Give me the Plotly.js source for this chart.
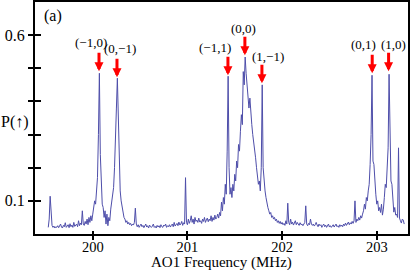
<!DOCTYPE html>
<html>
<head>
<meta charset="utf-8">
<script src="https://cdn.plot.ly/plotly-3.0.1.min.js"></script>
<style>html,body{margin:0;padding:0;background:#fff;}#chart{width:415px;height:270px;}</style>
</head>
<body>
<div id="chart"></div>
<script>
// Spectrum: P(up) sampled every freqStep MHz starting at freqStart
const freqStart = 199.53;
const freqStep = 0.01;
const pUp = [
  0.02, 0.045, 0.114, 0.05, 0.026, 0.02, 0.024, 0.018, 0.022, 0.02,
  0.025, 0.019, 0.023, 0.03, 0.021, 0.018, 0.026, 0.022, 0.034, 0.02,
  0.024, 0.028, 0.019, 0.031, 0.022, 0.027, 0.02, 0.035, 0.023, 0.026,
  0.03, 0.022, 0.04, 0.025, 0.033, 0.028, 0.07, 0.03, 0.026, 0.038,
  0.03, 0.045, 0.028, 0.05, 0.035, 0.055, 0.04, 0.06, 0.085, 0.1,
  0.09, 0.13, 0.17, 0.3, 0.485, 0.24, 0.13, 0.09, 0.08, 0.05,
  0.07, 0.03, 0.06, 0.025, 0.05, 0.04, 0.075, 0.1, 0.12, 0.14,
  0.2, 0.27, 0.38, 0.47, 0.36, 0.2, 0.13, 0.1, 0.08, 0.065,
  0.05, 0.045, 0.035, 0.04, 0.03, 0.035, 0.028, 0.032, 0.025, 0.03,
  0.027, 0.035, 0.078, 0.03, 0.022, 0.028, 0.02, 0.025, 0.03, 0.022,
  0.026, 0.019, 0.024, 0.03, 0.021, 0.025, 0.018, 0.027, 0.022, 0.02,
  0.024, 0.03, 0.02, 0.023, 0.018, 0.026, 0.021, 0.025, 0.019, 0.028,
  0.022, 0.02, 0.027, 0.024, 0.03, 0.02, 0.025, 0.022, 0.028, 0.021,
  0.026, 0.03, 0.022, 0.035, 0.024, 0.028, 0.032, 0.025, 0.036, 0.027,
  0.03, 0.038, 0.026, 0.034, 0.03, 0.17, 0.035, 0.028, 0.045, 0.032,
  0.04, 0.055, 0.035, 0.045, 0.03, 0.05, 0.038, 0.042, 0.035, 0.048,
  0.036, 0.04, 0.032, 0.045, 0.038, 0.05, 0.035, 0.042, 0.048, 0.037,
  0.045, 0.04, 0.055, 0.038, 0.05, 0.042, 0.057, 0.045, 0.05, 0.06,
  0.048, 0.065, 0.055, 0.096, 0.07, 0.11, 0.09, 0.15, 0.12, 0.25,
  0.476, 0.2, 0.12, 0.14, 0.11, 0.15, 0.13, 0.18, 0.16, 0.22,
  0.2, 0.27, 0.25, 0.31, 0.36, 0.33, 0.49, 0.45, 0.534, 0.485,
  0.44, 0.42, 0.38, 0.41, 0.35, 0.33, 0.3, 0.28, 0.26, 0.23,
  0.2, 0.18, 0.15, 0.16, 0.13, 0.2, 0.45, 0.2, 0.15, 0.13,
  0.11, 0.09, 0.08, 0.07, 0.06, 0.065, 0.05, 0.055, 0.045, 0.05,
  0.04, 0.045, 0.035, 0.04, 0.032, 0.038, 0.03, 0.035, 0.028, 0.032,
  0.026, 0.04, 0.03, 0.093, 0.035, 0.028, 0.045, 0.03, 0.036, 0.027,
  0.033, 0.04, 0.028, 0.035, 0.03, 0.026, 0.034, 0.028, 0.03, 0.025,
  0.03, 0.035, 0.085, 0.03, 0.025, 0.032, 0.028, 0.045, 0.03, 0.026,
  0.03, 0.024, 0.028, 0.035, 0.027, 0.022, 0.03, 0.025, 0.028, 0.02,
  0.026, 0.03, 0.022, 0.027, 0.02, 0.024, 0.03, 0.021, 0.025, 0.02,
  0.024, 0.028, 0.021, 0.026, 0.03, 0.022, 0.025, 0.02, 0.028, 0.023,
  0.027, 0.022, 0.03, 0.025, 0.033, 0.026, 0.03, 0.036, 0.028, 0.034,
  0.03, 0.038, 0.032, 0.04, 0.1, 0.035, 0.045, 0.04, 0.05, 0.042,
  0.055, 0.048, 0.06, 0.07, 0.09, 0.075, 0.11, 0.1, 0.13, 0.15,
  0.21, 0.3, 0.479, 0.22, 0.21, 0.14, 0.12, 0.09, 0.1, 0.07,
  0.08, 0.065, 0.09, 0.057, 0.075, 0.11, 0.15, 0.14, 0.2, 0.26,
  0.482, 0.3, 0.16, 0.15, 0.1, 0.066, 0.08, 0.057, 0.06, 0.05,
  0.26, 0.048, 0.04, 0.033, 0.045, 0.042, 0.03
];

// Peak labels and arrows
const peakLabels = ["(\u22121,0)", "(0,\u22121)", "(\u22121,1)", "(0,0)", "(1,\u22121)", "(0,1)", "(1,0)"];
const arrowFreq = [200.066, 200.256, 201.428, 201.607, 201.787, 202.952, 203.125];
const arrowTip = [0.491, 0.473, 0.479, 0.539, 0.455, 0.485, 0.491];
const labelFreq = [199.985, 200.288, 201.291, 201.592, 201.85, 202.864, 203.181];
const labelP = [0.578, 0.560, 0.562, 0.620, 0.536, 0.571, 0.571];

// Axis ticks
const xTickVals = [200, 201, 202, 203];
const yTickVals = [0.1, 0.2, 0.3, 0.4, 0.5, 0.6];
const yTickText = ["0.1", "", "", "", "", "0.6"];
const xTitle = "AO1 Frequency (MHz)";
const yTitle = "P(\u2191)";

const xRange = [199.39, 203.33];
const yRange = [0, 0.7];
const serif = "Liberation Serif";

const traces = [
  {
    type: "scatter", mode: "lines",
    y: pUp, x0: freqStart, dx: freqStep,
    line: {color: "rgb(78,78,170)", width: 1},
    hoverinfo: "skip"
  },
  {type: "scatter", mode: "lines", x: [], y: [], xaxis: "x2", yaxis: "y2", hoverinfo: "skip"}
];

const annotations = [];
for (let k = 0; k < peakLabels.length; k++) {
  annotations.push({
    x: arrowFreq[k], y: arrowTip[k], xref: "x", yref: "y",
    text: "", showarrow: true, ax: 0, ay: -20,
    arrowcolor: "#ff0000", arrowwidth: 3, arrowhead: 2, arrowsize: 0.6, standoff: 0
  });
  annotations.push({
    x: labelFreq[k], y: labelP[k], xref: "x", yref: "y",
    text: peakLabels[k], showarrow: false, xanchor: "center", yanchor: "middle",
    font: {family: serif, size: 13, color: "#000"}
  });
}
annotations.push({
  x: 199.58, y: 0.657, xref: "x", yref: "y", text: "(a)", showarrow: false,
  xanchor: "center", yanchor: "middle", font: {family: serif, size: 16, color: "#000"}
});
annotations.push({
  x: -0.054, y: 0.337, xref: "paper", yref: "y", text: yTitle, showarrow: false,
  xanchor: "center", yanchor: "middle", font: {family: serif, size: 16, color: "#000"}
});
annotations.push({
  x: 0.5, y: -0.124, xref: "paper", yref: "paper", text: xTitle, showarrow: false,
  xanchor: "center", yanchor: "middle", font: {family: serif, size: 15, color: "#000"}
});

const layout = {
  width: 415, height: 270,
  margin: {l: 35, r: 7, t: 2, b: 36},
  paper_bgcolor: "#fff", plot_bgcolor: "#fff",
  showlegend: false,
  xaxis: {
    range: xRange, tickmode: "array", tickvals: xTickVals,
    ticks: "outside", ticklen: 4, tickwidth: 2, tickcolor: "#000",
    ticklabelstandoff: -5,
    showline: true, linewidth: 2, linecolor: "#000", mirror: true,
    showgrid: false, zeroline: false,
    tickfont: {family: serif, size: 14.5, color: "#000"}
  },
  yaxis: {
    range: yRange, tickmode: "array", tickvals: yTickVals, ticktext: yTickText,
    ticks: "outside", ticklen: 5, tickwidth: 2, tickcolor: "#000",
    showline: true, linewidth: 2, linecolor: "#000", mirror: true,
    showgrid: false, zeroline: false,
    tickfont: {family: serif, size: 16, color: "#000"}
  },
  xaxis2: {
    overlaying: "x", range: xRange, tickmode: "array", tickvals: xTickVals,
    ticks: "inside", ticklen: 3, tickwidth: 2, tickcolor: "#000",
    showticklabels: false, showline: false, showgrid: false, zeroline: false
  },
  yaxis2: {
    overlaying: "y", range: yRange, tickmode: "array", tickvals: yTickVals,
    ticks: "inside", ticklen: 6, tickwidth: 2, tickcolor: "#000",
    showticklabels: false, showline: false, showgrid: false, zeroline: false
  },
  annotations: annotations
};

Plotly.newPlot("chart", traces, layout, {staticPlot: true, displayModeBar: false});
</script>
</body>
</html>
